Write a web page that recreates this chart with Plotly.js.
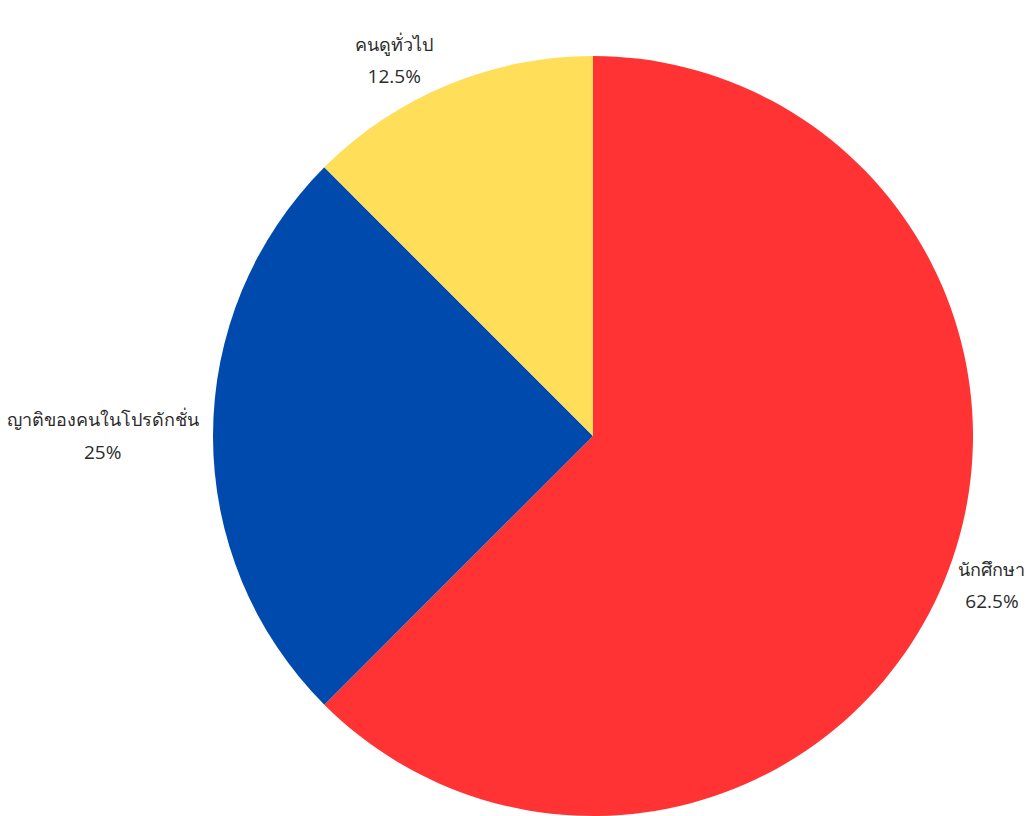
<!DOCTYPE html>
<html>
<head>
<meta charset="utf-8">
<script src="https://cdn.plot.ly/plotly-3.0.1.min.js"></script>
<style>html,body{margin:0;padding:0;background:#fff;}#chart{width:1032px;height:816px;}</style>
</head>
<body>
<div id="chart"></div>
<script>
const categories = ["นักศึกษา", "ญาติของคนในโปรดักชั่น", "คนดูทั่วไป"];
const values = [62.5, 25, 12.5];
const colors = ["#FF3333", "#004AAD", "#FFDE59"];

const trace = {
  type: "pie",
  labels: categories,
  values: values,
  sort: false,
  direction: "clockwise",
  rotation: 0,
  marker: { colors: colors, line: { width: 0 } },
  texttemplate: "<span style='font-size:18px'>%{label}</span><br><span style='font-size:19px'>%{percent}</span>",
  textposition: "outside",
  outsidetextfont: { size: 25, color: "#2b2b2b" },
  showlegend: false,
  hoverinfo: "label+percent"
};

const layout = {
  width: 1032,
  height: 816,
  margin: { l: 213, r: 59, t: 56, b: 0 },
  paper_bgcolor: "#ffffff",
  font: { family: "Open Sans, Noto Sans, sans-serif", size: 18, color: "#2b2b2b" },
  showlegend: false
};

Plotly.newPlot("chart", [trace], layout, { displayModeBar: false, staticPlot: true });
</script>
</body>
</html>
